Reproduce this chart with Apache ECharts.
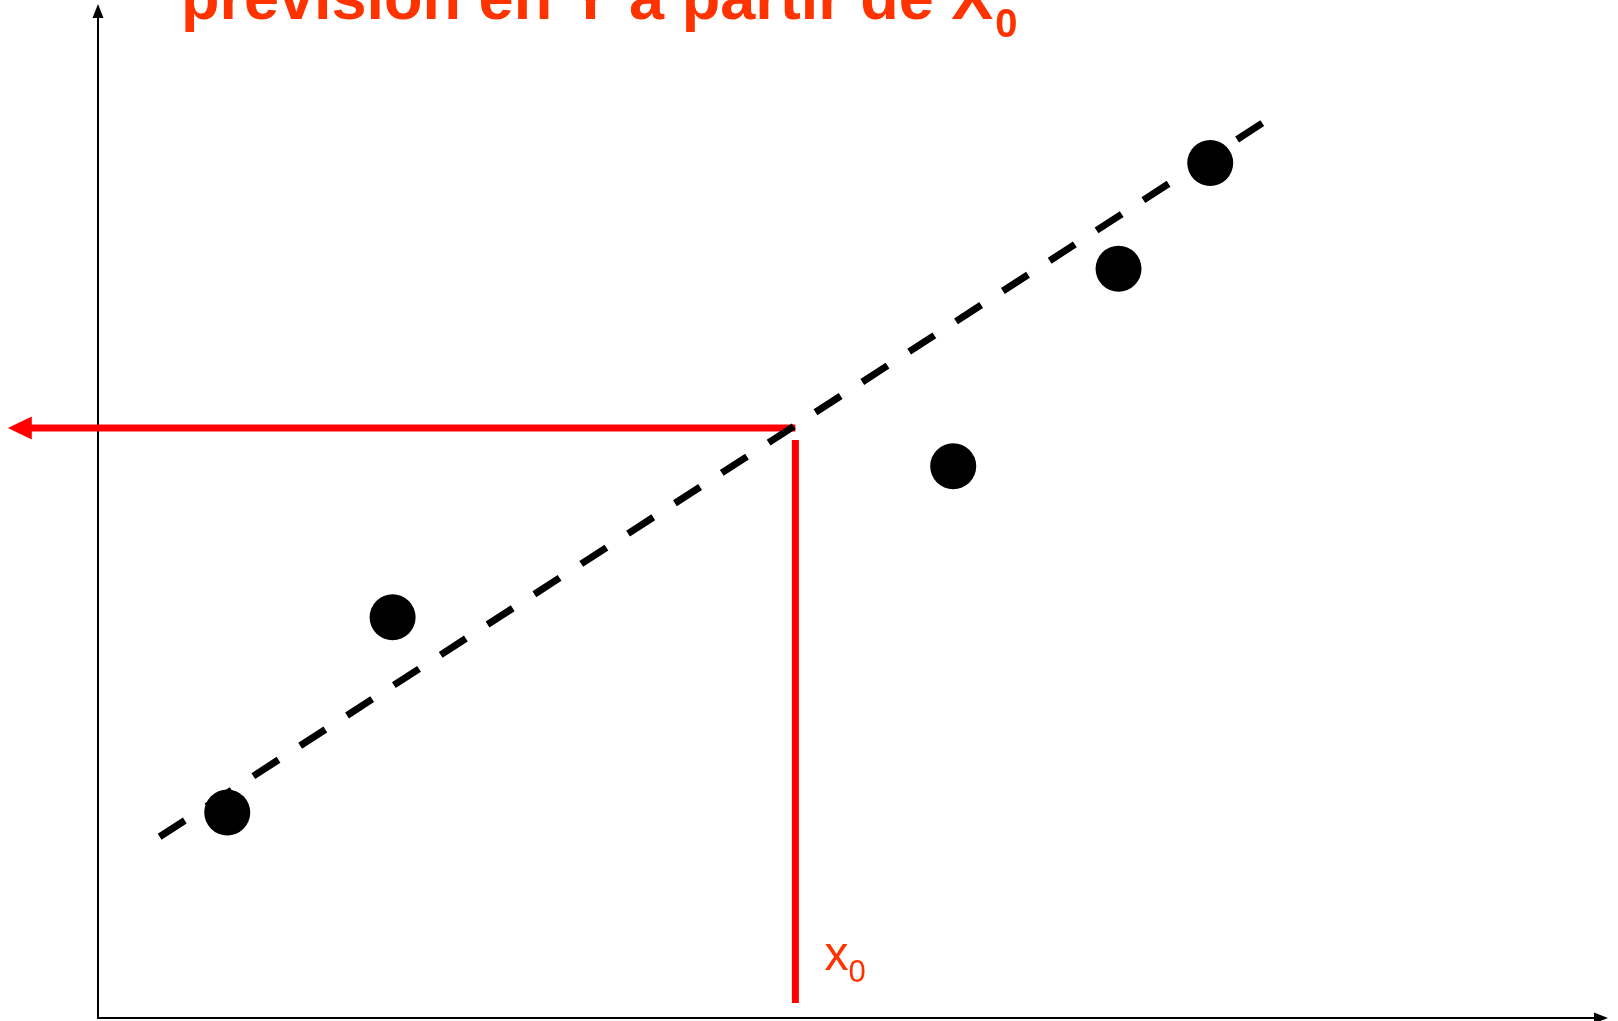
<!DOCTYPE html>
<html lang="fr">
<head>
<meta charset="UTF-8" />
<title>prévision en Y</title>
<style>
  html, body { margin: 0; padding: 0; background: #fff; }
  #main { width: 1618px; height: 1021px; }
</style>
</head>
<body>
<div id="main"></div>
<script src="https://cdn.jsdelivr.net/npm/echarts@6/dist/echarts.min.js"></script>
<script>
const pointsX = [8.6, 19.6, 56.9, 67.9, 74.0]
const pointsY = [20.4, 39.8, 54.8, 74.4, 84.9]
// fitted line, drawn dashed
const trendX = [4.1, 77.5]
const trendY = [18.0, 88.9]
// forecast at x0
const x0 = 46.4
const y0 = 58.6
const guideY = [1.5, 57.4]      // vertical red segment
const arrowTipX = -6.0          // tip of the arrow, left of the y axis
const titleText = 'prévision en Y à partir de X'
const titleSub = '0'
const labelText = 'x'
const labelSub = '0'

const RED = '#ff0000'
const ORANGE = '#ff3300'

const chart = echarts.init(document.getElementById('main'))

const axisCommon = {
  type: 'value',
  min: 0,
  max: 100,
  axisLine: {
    show: true,
    onZero: false,
    symbol: ['none', 'triangle'],
    symbolSize: [11, 14],
    lineStyle: { color: '#000', width: 2 }
  },
  axisTick: { show: false },
  axisLabel: { show: false },
  splitLine: { show: false }
}

chart.setOption({
  animation: false,
  grid: { left: 98, right: 17, top: 11, bottom: 3 },
  xAxis: axisCommon,
  yAxis: axisCommon,
  series: [
    {
      // horizontal red arrow, runs past the y axis
      type: 'custom',
      data: [[x0, y0, arrowTipX]],
      clip: false,
      silent: true,
      z: 2,
      renderItem: function (params, api) {
        const start = api.coord([api.value(0), api.value(1)])
        const tip = api.coord([api.value(2), api.value(1)])
        const headLen = 24
        const headHalf = 11.5
        return {
          type: 'group',
          children: [
            {
              type: 'line',
              shape: { x1: start[0], y1: start[1], x2: tip[0] + headLen - 1, y2: tip[1] },
              style: { stroke: RED, lineWidth: 7 }
            },
            {
              type: 'polygon',
              shape: {
                points: [
                  [tip[0], tip[1]],
                  [tip[0] + headLen, tip[1] - headHalf],
                  [tip[0] + headLen, tip[1] + headHalf]
                ]
              },
              style: { fill: RED }
            }
          ]
        }
      }
    },
    {
      // vertical red line at x0
      type: 'line',
      data: [[x0, guideY[0]], [x0, guideY[1]]],
      symbol: 'none',
      silent: true,
      z: 2,
      lineStyle: { color: RED, width: 7 }
    },
    {
      type: 'line',
      data: trendX.map((x, i) => [x, trendY[i]]),
      symbol: 'none',
      silent: true,
      z: 3,
      lineStyle: { color: '#000', width: 7, type: [30, 25.8] }
    },
    {
      type: 'scatter',
      data: pointsX.map((x, i) => [x, pointsY[i]]),
      symbolSize: 46,
      silent: true,
      z: 4,
      itemStyle: { color: '#000', opacity: 1 }
    }
  ]
})

// text placement: measure widths so the subscripts follow their letters
const ctx = document.createElement('canvas').getContext('2d')
function textWidth (str, font) {
  ctx.font = font
  return ctx.measureText(str).width
}

const titleFont = 'bold 63px "Liberation Sans"'
const titleSubFont = 'bold 40px "Liberation Sans"'
const labelFont = '48px "Liberation Sans"'
const labelSubFont = '31px "Liberation Sans"'

const titleLeft = 181
const titleW = textWidth(titleText, titleFont)

const [gx] = chart.convertToPixel('grid', [x0, 0])
const [, axisY] = chart.convertToPixel('grid', [0, 0])
const labelLeft = gx + 29
const labelW = textWidth(labelText, labelFont)

chart.setOption({
  graphic: {
    elements: [
      {
        type: 'text',
        style: {
          text: titleText, x: titleLeft, y: 23 - 0.3465 * 63,
          font: titleFont, fill: ORANGE, align: 'left', verticalAlign: 'middle'
        }
      },
      {
        type: 'text',
        style: {
          text: titleSub, x: titleLeft + titleW + 2, y: 40 - 0.3465 * 40,
          font: titleSubFont, fill: ORANGE, align: 'left', verticalAlign: 'middle'
        }
      },
      {
        type: 'text',
        style: {
          text: labelText, x: labelLeft, y: axisY - 45 - 0.3465 * 48,
          font: labelFont, fill: ORANGE, align: 'left', verticalAlign: 'middle'
        }
      },
      {
        type: 'text',
        style: {
          text: labelSub, x: labelLeft + labelW, y: axisY - 34 - 0.3465 * 31,
          font: labelSubFont, fill: ORANGE, align: 'left', verticalAlign: 'middle'
        }
      }
    ]
  }
})
</script>
</body>
</html>
